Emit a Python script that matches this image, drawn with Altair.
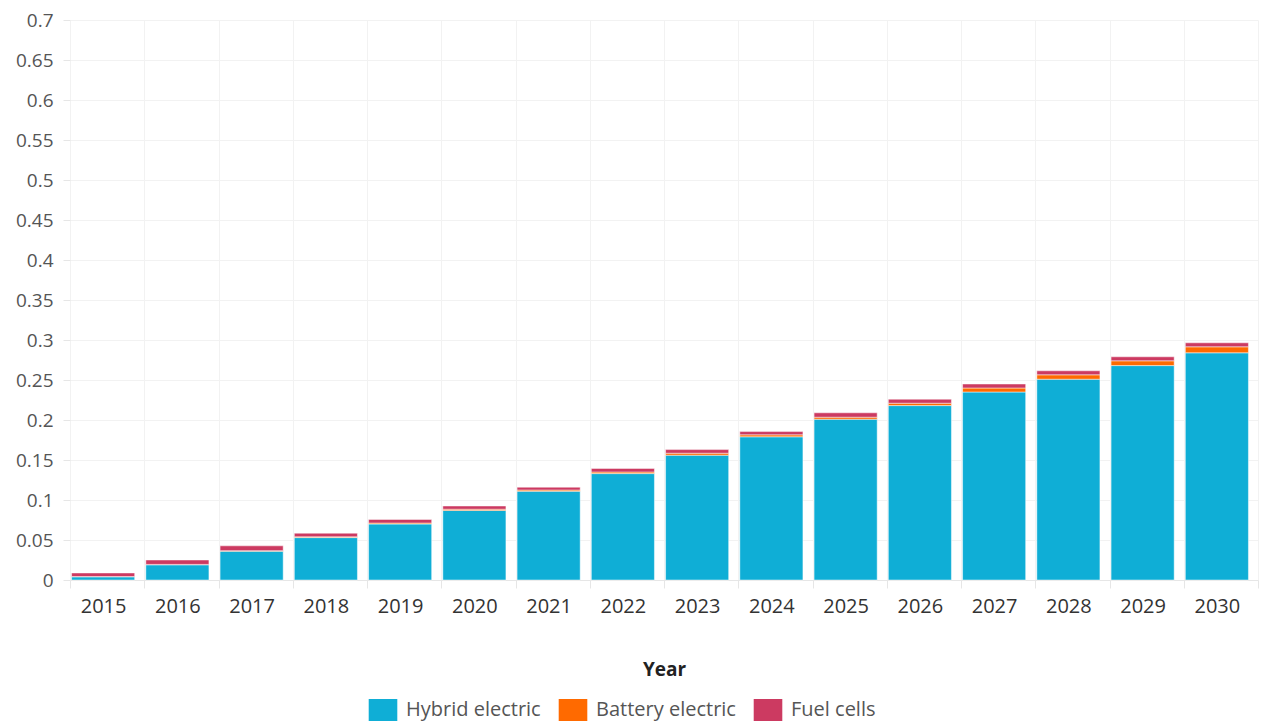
import altair as alt
import pandas as pd

years = [str(y) for y in range(2015, 2031)]
hybrid = [0.004, 0.019, 0.036, 0.053, 0.070, 0.087, 0.111, 0.133, 0.156, 0.179,
          0.201, 0.218, 0.235, 0.251, 0.268, 0.284]
battery = [0.0003, 0.0005, 0.0007, 0.001, 0.0012, 0.0015, 0.0015, 0.002, 0.0025,
           0.0025, 0.0025, 0.003, 0.005, 0.0055, 0.006, 0.0075]
fuel = [0.0045, 0.0055, 0.006, 0.0045, 0.0045, 0.004, 0.0035, 0.0045, 0.0045,
        0.004, 0.0055, 0.005, 0.005, 0.005, 0.005, 0.005]
series = ["Hybrid electric", "Battery electric", "Fuel cells"]
colors = ["#0FAED6", "#FF6A00", "#CC3A61"]
y_ticks = [0, 0.05, 0.1, 0.15, 0.2, 0.25, 0.3, 0.35, 0.4, 0.45, 0.5, 0.55, 0.6, 0.65, 0.7]

rows = []
for i, y in enumerate(years):
    for k, (name, vals) in enumerate(zip(series, [hybrid, battery, fuel])):
        rows.append({"Year": y, "Type": name, "Value": vals[i], "order": k})
df = pd.DataFrame(rows)

FONT = "Open Sans"

chart = alt.Chart(df).mark_bar(
    stroke="white", strokeWidth=0.8, strokeOpacity=0.6,
    width=alt.RelativeBandSize(0.85), xOffset=-4,
).encode(
    x=alt.X("Year:N", sort=years,
            scale=alt.Scale(paddingInner=0, paddingOuter=0),
            axis=alt.Axis(title="Year", labelAngle=0, tickBand="extent", labelOffset=-4,
                          labelFontSize=20, labelColor="#333333", labelPadding=8,
                          tickSize=8, tickColor="#e6e6e6", domainColor="#e6e6e6",
                          grid=True, gridColor="#f2f2f2",
                          titleFontSize=19, titleFontWeight="bold", titleColor="#222222",
                          titlePadding=44)),
    y=alt.Y("Value:Q", stack="zero",
            scale=alt.Scale(domain=[0, 0.7], nice=False),
            axis=alt.Axis(title=None, values=y_ticks,
                          labelExpr="format(datum.value, '.2~f')",
                          labelFontSize=19, labelColor="#555555", labelPadding=10,
                          tickSize=7, tickColor="#e6e6e6", domain=False,
                          grid=True, gridColor="#f2f2f2")),
    color=alt.Color("Type:N", sort=series,
                    scale=alt.Scale(domain=series, range=colors),
                    legend=alt.Legend(title=None, orient="none", legendX=302, legendY=679,
                                      direction="horizontal", columns=3,
                                      symbolType="M-1.3,-1H1.3V1H-1.3Z", symbolSize=484,
                                      symbolStrokeWidth=0, symbolOpacity=1,
                                      labelFontSize=20, labelColor="#555555",
                                      labelOffset=12, columnPadding=17)),
    order=alt.Order("order:Q"),
).properties(
    width=1188, height=560,
    padding={"left": 70, "top": 20, "right": 7, "bottom": 142},
    autosize=alt.AutoSizeParams(type="none"),
).configure(font=FONT).configure_view(stroke=None)

chart.save("out.html", embed_options={"renderer": "svg", "actions": False})
